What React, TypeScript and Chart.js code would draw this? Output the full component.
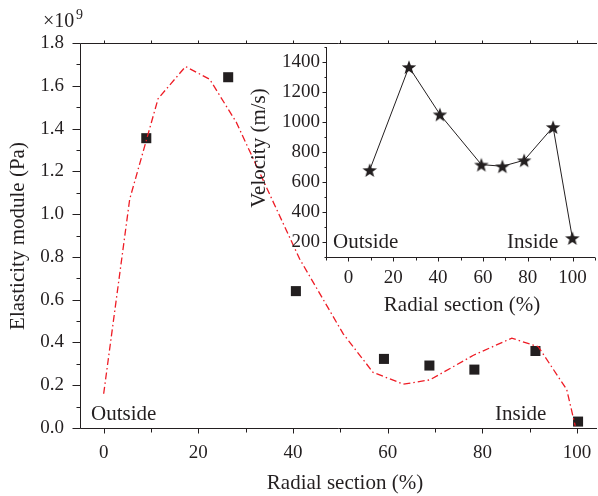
import { useEffect, useRef } from "react";
import { Chart, registerables } from "chart.js";
Chart.register(...registerables);

const W = 598;
const H = 496;
const FONT = "'Liberation Serif', 'Times New Roman', serif";
const INK = "#231f20";
const RED = "#ee1c25";

// ---- main chart data ----
const radialSection = [9, 26.3, 40.6, 59.2, 68.8, 78.3, 91.2, 100.2];
const elasticityModule = [1.355, 1.64, 0.64, 0.323, 0.292, 0.273, 0.36, 0.03];
const fitRadial = [0, 5.5, 11.5, 17.3, 22.4, 28, 41.4, 50.6, 56.9, 63.3, 68.9, 78.1, 86.2, 91.8, 97.8, 99.6];
const fitModule = [0.16, 1.07, 1.54, 1.69, 1.63, 1.43, 0.79, 0.44, 0.26, 0.205, 0.225, 0.34, 0.42, 0.38, 0.18, 0.01];
const mainXTicks = [0, 20, 40, 60, 80, 100];
const mainYTicks = [0, 0.2, 0.4, 0.6, 0.8, 1.0, 1.2, 1.4, 1.6, 1.8];

// ---- inset chart data ----
const insetRadial = [9.5, 27, 40.8, 59.3, 68.7, 78.4, 91.3, 99.9];
const velocity = [680, 1367, 1051, 716, 705, 745, 967, 227];
const insetXTicks = [0, 20, 40, 60, 80, 100];
const insetYTicks = [200, 400, 600, 800, 1000, 1200, 1400];

function makeStar(): HTMLCanvasElement {
  const c = document.createElement("canvas");
  const s = 16;
  c.width = s;
  c.height = s;
  const g = c.getContext("2d")!;
  g.fillStyle = INK;
  g.beginPath();
  for (let i = 0; i < 10; i++) {
    const r = i % 2 === 0 ? 7.6 : 3.1;
    const a = -Math.PI / 2 + (i * Math.PI) / 5;
    const px = s / 2 + r * Math.cos(a);
    const py = s / 2 + 0.8 + r * Math.sin(a);
    if (i === 0) g.moveTo(px, py);
    else g.lineTo(px, py);
  }
  g.closePath();
  g.fill();
  return c;
}

const snap = (v: number) => Math.round(v) + 0.5;

const mainDecor = {
  id: "mainDecor",
  afterDraw(chart: any) {
    const { ctx, chartArea: a, scales } = chart;
    const xs = scales.x;
    const ys = scales.y;
    const L = snap(a.left);
    const B = snap(a.bottom);
    const T = snap(a.top);
    const R = a.right;
    ctx.save();
    ctx.strokeStyle = INK;
    ctx.lineWidth = 1;
    ctx.beginPath();
    ctx.moveTo(L, T);
    ctx.lineTo(L, B);
    ctx.lineTo(R, B);
    ctx.moveTo(L, T);
    ctx.lineTo(R, T);
    mainYTicks.forEach((v, i) => {
      const p = snap(ys.getPixelForValue(v));
      ctx.moveTo(L, p);
      ctx.lineTo(L - 8, p);
      if (i < mainYTicks.length - 1) {
        const m = snap(ys.getPixelForValue((v + mainYTicks[i + 1]) / 2));
        ctx.moveTo(L, m);
        ctx.lineTo(L - 4, m);
      }
    });
    mainXTicks.forEach((v, i) => {
      const p = snap(xs.getPixelForValue(v));
      ctx.moveTo(p, B);
      ctx.lineTo(p, B + 5);
      ctx.moveTo(p, T);
      ctx.lineTo(p, T - 3);
      if (i < mainXTicks.length - 1) {
        const m = snap(xs.getPixelForValue((v + mainXTicks[i + 1]) / 2));
        ctx.moveTo(m, B);
        ctx.lineTo(m, B + 4);
        ctx.moveTo(m, T);
        ctx.lineTo(m, T - 3);
      }
    });
    ctx.stroke();

    ctx.fillStyle = INK;
    ctx.textBaseline = "alphabetic";
    ctx.font = `21px ${FONT}`;
    ctx.textAlign = "left";
    ctx.fillText("Outside", 91, 420);
    ctx.fillText("Inside", 495, 420);
    ctx.font = `20px ${FONT}`;
    ctx.fillText("×10", 43, 27);
    ctx.font = `14px ${FONT}`;
    ctx.fillText("9", 76, 19);

    ctx.font = `21px ${FONT}`;
    ctx.textAlign = "center";
    ctx.textBaseline = "middle";
    ctx.fillText("Radial section (%)", 345, 483);
    ctx.translate(18, 236);
    ctx.rotate(-Math.PI / 2);
    ctx.fillText("Elasticity module (Pa)", 0, 0);
    ctx.restore();
  },
};

const insetDecor = {
  id: "insetDecor",
  afterDraw(chart: any) {
    const { ctx, chartArea: a, scales } = chart;
    const xs = scales.x;
    const ys = scales.y;
    const L = snap(a.left);
    const B = snap(a.bottom);
    const T = a.top;
    const R = a.right;
    ctx.save();
    ctx.strokeStyle = INK;
    ctx.lineWidth = 1;
    ctx.beginPath();
    ctx.moveTo(L, T);
    ctx.lineTo(L, B);
    ctx.lineTo(R, B);
    insetYTicks.forEach((v, i) => {
      const p = snap(ys.getPixelForValue(v));
      ctx.moveTo(L, p);
      ctx.lineTo(L - 4, p);
      const m = snap(ys.getPixelForValue(v - 100));
      ctx.moveTo(L, m);
      ctx.lineTo(L - 2, m);
      if (i === insetYTicks.length - 1) {
        const m2 = snap(ys.getPixelForValue(v + 100));
        ctx.moveTo(L, m2);
        ctx.lineTo(L - 2, m2);
      }
    });
    insetXTicks.forEach((v, i) => {
      const p = snap(xs.getPixelForValue(v));
      ctx.moveTo(p, B);
      ctx.lineTo(p, B + 4);
      const m = snap(xs.getPixelForValue(v - 10));
      ctx.moveTo(m, B);
      ctx.lineTo(m, B + 3);
      if (i === insetXTicks.length - 1) {
        const m2 = snap(xs.getPixelForValue(v + 10));
        ctx.moveTo(m2, B);
        ctx.lineTo(m2, B + 3);
      }
    });
    ctx.stroke();

    ctx.fillStyle = INK;
    ctx.font = `21px ${FONT}`;
    ctx.textAlign = "left";
    ctx.textBaseline = "alphabetic";
    ctx.fillText("Outside", 333, 248);
    ctx.fillText("Inside", 507, 248);

    ctx.textAlign = "center";
    ctx.textBaseline = "middle";
    ctx.fillText("Radial section (%)", 462, 305);
    ctx.translate(259, 148);
    ctx.rotate(-Math.PI / 2);
    ctx.fillText("Velocity (m/s)", 0, 0);
    ctx.restore();
  },
};

const tickFont = { family: FONT, size: 19 };

const noPadX = (h: number) => (s: any) => {
  s.height = h;
  s.paddingLeft = 0;
  s.paddingRight = 0;
};
const noPadY = (w: number) => (s: any) => {
  s.width = w;
  s.paddingTop = 0;
  s.paddingBottom = 0;
};

export default function App() {
  const mainRef = useRef<HTMLCanvasElement>(null);
  const insetRef = useRef<HTMLCanvasElement>(null);

  useEffect(() => {
    const main = new Chart(mainRef.current!, {
      type: "scatter",
      data: {
        datasets: [
          {
            type: "line",
            data: fitRadial.map((x, i) => ({ x, y: fitModule[i] })),
            borderColor: RED,
            borderWidth: 1.3,
            borderDash: [7, 3, 1.5, 3],
            pointRadius: 0,
            fill: false,
            tension: 0,
            order: 0,
          } as any,
          {
            data: radialSection.map((x, i) => ({ x, y: elasticityModule[i] })),
            pointStyle: "rect",
            pointRadius: 7.1,
            backgroundColor: INK,
            borderColor: INK,
            borderWidth: 0,
            order: 1,
          },
        ],
      },
      options: {
        responsive: false,
        animation: false,
        devicePixelRatio: 1,
        layout: { autoPadding: false, padding: { top: 43, right: 1, left: 0, bottom: 0 } },
        plugins: { legend: { display: false }, tooltip: { enabled: false } },
        scales: {
          x: {
            type: "linear",
            min: -5,
            max: 104.2,
            grid: { display: false, drawTicks: false },
            border: { display: false },
            afterBuildTicks: (s: any) => {
              s.ticks = mainXTicks.map((v) => ({ value: v }));
            },
            afterFit: noPadX(68),
            ticks: { color: INK, font: tickFont, padding: 14, maxRotation: 0, autoSkip: false },
          },
          y: {
            type: "linear",
            min: 0,
            max: 1.8,
            grid: { display: false, drawTicks: false },
            border: { display: false },
            afterBuildTicks: (s: any) => {
              s.ticks = mainYTicks.map((v) => ({ value: v }));
            },
            afterFit: noPadY(80),
            ticks: {
              color: INK,
              font: tickFont,
              padding: 16,
              callback: (v: any) => Number(v).toFixed(1),
            },
          },
        },
      },
      plugins: [mainDecor],
    });

    const star = makeStar();
    const inset = new Chart(insetRef.current!, {
      type: "line",
      data: {
        datasets: [
          {
            data: insetRadial.map((x, i) => ({ x, y: velocity[i] })),
            borderColor: INK,
            borderWidth: 1,
            pointStyle: star as any,
            pointRadius: 7,
            backgroundColor: INK,
            tension: 0,
            fill: false,
            clip: false,
          } as any,
        ],
      },
      options: {
        responsive: false,
        animation: false,
        devicePixelRatio: 1,
        layout: { autoPadding: false, padding: { top: 47, right: 3, left: 0, bottom: 0 } },
        plugins: { legend: { display: false }, tooltip: { enabled: false } },
        scales: {
          x: {
            type: "linear",
            min: -10,
            max: 110,
            grid: { display: false, drawTicks: false },
            border: { display: false },
            afterBuildTicks: (s: any) => {
              s.ticks = insetXTicks.map((v) => ({ value: v }));
            },
            afterFit: noPadX(H - 257),
            ticks: { color: INK, font: tickFont, padding: 10, maxRotation: 0, autoSkip: false },
          },
          y: {
            type: "linear",
            min: 100,
            max: 1500,
            grid: { display: false, drawTicks: false },
            border: { display: false },
            afterBuildTicks: (s: any) => {
              s.ticks = insetYTicks.map((v) => ({ value: v }));
            },
            afterFit: noPadY(326),
            ticks: { color: INK, font: tickFont, padding: 6, callback: (v: any) => String(v) },
          },
        },
      },
      plugins: [insetDecor],
    });

    return () => {
      main.destroy();
      inset.destroy();
    };
  }, []);

  const style: any = { position: "absolute", left: 0, top: 0, width: W, height: H };
  return (
    <div style={{ position: "absolute", left: 0, top: 0, width: W, height: H, background: "#fff" }}>
      <canvas ref={mainRef} width={W} height={H} style={style} />
      <canvas ref={insetRef} width={W} height={H} style={{ ...style, pointerEvents: "none" }} />
    </div>
  );
}
